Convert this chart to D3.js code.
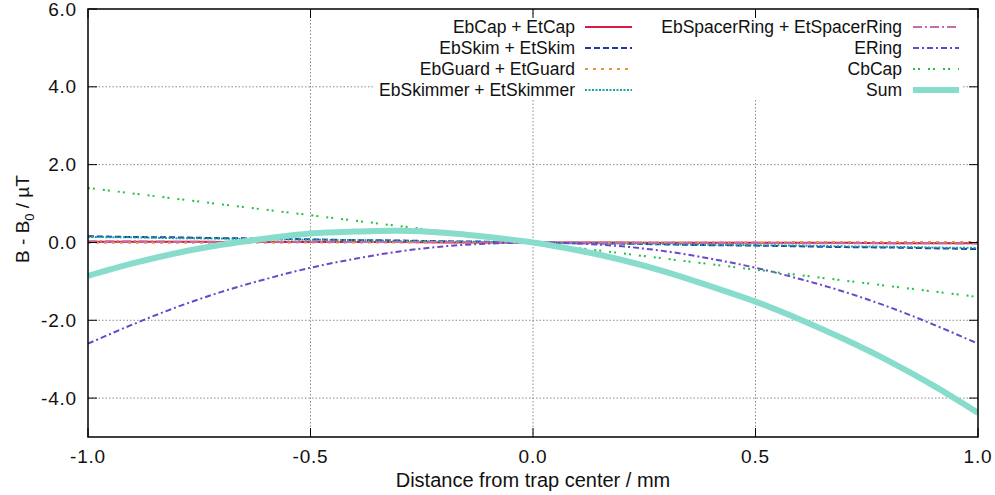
<!DOCTYPE html>
<html>
<head>
<meta charset="utf-8">
<script src="https://cdn.jsdelivr.net/npm/d3@7"></script>
<style>
  html, body { margin: 0; padding: 0; background: #fff; }
  svg { display: block; font-family: "Liberation Sans", Arial, Helvetica, sans-serif; }
</style>
</head>
<body>
<svg id="chart" width="995" height="495"></svg>
<script>
// Sample positions along the trap axis (mm)
const positions = [-1.0, -0.9, -0.8, -0.7, -0.6, -0.5, -0.4, -0.3, -0.2, -0.1, 0.0,
                   0.1, 0.2, 0.3, 0.4, 0.5, 0.6, 0.7, 0.8, 0.9, 1.0];

// Field deviation contributions (µT) per electrode pair
const ebCap = [0.02, 0.02, 0.02, 0.01, 0.01, 0.01, 0.01, 0.01, 0.00, 0.00, 0.00,
               0.00, 0.00, -0.01, -0.01, -0.01, -0.01, -0.01, -0.02, -0.02, -0.02];
const ebSkim = [0.16, 0.14, 0.13, 0.11, 0.10, 0.08, 0.06, 0.05, 0.03, 0.02, 0.00,
                -0.02, -0.03, -0.05, -0.07, -0.08, -0.10, -0.12, -0.13, -0.15, -0.17];
const ebGuard = [-0.01, -0.01, -0.01, -0.01, -0.01, 0.00, 0.00, 0.00, 0.00, 0.00, 0.00,
                 0.00, 0.00, 0.00, 0.00, 0.00, 0.01, 0.01, 0.01, 0.01, 0.01];
const ebSkimmer = [0.14, 0.13, 0.11, 0.10, 0.08, 0.07, 0.06, 0.04, 0.03, 0.01, 0.00,
                   -0.01, -0.03, -0.04, -0.06, -0.07, -0.08, -0.10, -0.11, -0.13, -0.14];
const ebSpacerRing = [0.03, 0.03, 0.02, 0.02, 0.02, 0.02, 0.01, 0.01, 0.01, 0.00, 0.00,
                      0.00, -0.01, -0.01, -0.01, -0.01, -0.02, -0.02, -0.02, -0.02, -0.03];
const eRing = [-2.60, -2.11, -1.66, -1.27, -0.94, -0.65, -0.42, -0.23, -0.10, -0.03, 0.00,
               -0.03, -0.10, -0.23, -0.42, -0.65, -0.94, -1.27, -1.66, -2.11, -2.60];
const cbCap = [1.40, 1.26, 1.12, 0.98, 0.84, 0.70, 0.56, 0.42, 0.28, 0.14, 0.00,
               -0.14, -0.28, -0.42, -0.56, -0.70, -0.84, -0.98, -1.12, -1.26, -1.40];
const sumField = [-0.86, -0.54, -0.27, -0.06, 0.10, 0.23, 0.28, 0.30, 0.25, 0.14, 0.00,
                  -0.20, -0.45, -0.76, -1.13, -1.52, -1.98, -2.49, -3.05, -3.68, -4.38];

const seriesNames = ["EbCap + EtCap", "EbSkim + EtSkim", "EbGuard + EtGuard", "EbSkimmer + EtSkimmer",
                     "EbSpacerRing + EtSpacerRing", "ERing", "CbCap", "Sum"];
const seriesValues = [ebCap, ebSkim, ebGuard, ebSkimmer, ebSpacerRing, eRing, cbCap, sumField];

const xTicks = [-1.0, -0.5, 0.0, 0.5, 1.0];
const yTicks = [6.0, 4.0, 2.0, 0.0, -2.0, -4.0];

// Line styles for each series, in plotting order
const styles = [
  { color: "#d81b45", width: 2,   dash: null },
  { color: "#1f3aa3", width: 2,   dash: "6,3" },
  { color: "#e09a3a", width: 2,   dash: "3,5" },
  { color: "#1aa5a0", width: 2,   dash: "2,1.5" },
  { color: "#c86aa8", width: 2,   dash: "9,3,2,3" },
  { color: "#6a48c8", width: 2,   dash: "6,3,2,3" },
  { color: "#22c040", width: 2,   dash: "2,3,2,8" },
  { color: "#88dccb", width: 6,   dash: null }
];

const W = 995, H = 495;
const margin = { left: 88, right: 17, top: 9, bottom: 58 };
const svg = d3.select("#chart");

const x = d3.scaleLinear().domain([-1, 1]).range([margin.left, W - margin.right]);
const y = d3.scaleLinear().domain([-5, 6]).range([H - margin.bottom, margin.top]);

const plotL = x(-1), plotR = x(1), plotT = y(6), plotB = y(-5);

// Dotted grid
const grid = svg.append("g").attr("stroke", "#8a8a8a").attr("stroke-width", 1)
  .attr("stroke-dasharray", "1.5,2");
grid.selectAll("line.gx").data(xTicks.filter(t => t > -1 && t < 1)).join("line")
  .attr("x1", d => x(d)).attr("x2", d => x(d)).attr("y1", plotT).attr("y2", plotB);
grid.selectAll("line.gy").data(yTicks.filter(t => t < 6)).join("line")
  .attr("y1", d => y(d)).attr("y2", d => y(d)).attr("x1", plotL).attr("x2", plotR);

// Curves
const line = d3.line()
  .x((d, i) => x(positions[i]))
  .y(d => y(d))
  .curve(d3.curveCatmullRom.alpha(0.5));

svg.append("clipPath").attr("id", "plotclip").append("rect")
  .attr("x", plotL).attr("y", plotT).attr("width", plotR - plotL).attr("height", plotB - plotT);

const curves = svg.append("g").attr("clip-path", "url(#plotclip)");
seriesValues.forEach((vals, k) => {
  const s = styles[k];
  curves.append("path")
    .attr("d", line(vals))
    .attr("fill", "none")
    .attr("stroke", s.color)
    .attr("stroke-width", s.width)
    .attr("stroke-dasharray", s.dash)
    .attr("stroke-linejoin", "round");
});

// Legend with opaque background
svg.append("rect").attr("x", 373).attr("y", 14).attr("width", 590).attr("height", 86).attr("fill", "#fff");

const legend = svg.append("g").attr("font-size", 17.5).attr("fill", "#111");
const legendCols = [
  { textX: 575, x1: 585, x2: 632 },
  { textX: 902, x1: 913, x2: 959 }
];
seriesNames.forEach((name, k) => {
  const col = legendCols[k < 4 ? 0 : 1];
  const row = k % 4;
  const ly = 27 + row * 21;
  const s = styles[k];
  legend.append("text").attr("x", col.textX).attr("y", ly).attr("dy", "0.35em")
    .attr("text-anchor", "end").text(name);
  legend.append("line").attr("x1", col.x1).attr("x2", col.x2).attr("y1", ly).attr("y2", ly)
    .attr("stroke", s.color).attr("stroke-width", s.width)
    .attr("stroke-dasharray", s.dash);
});

// Axes: ticks pointing inward on all four sides
const tickLen = 9;
const axisG = svg.append("g").attr("stroke", "#000").attr("stroke-width", 1);
xTicks.forEach(t => {
  axisG.append("line").attr("x1", x(t)).attr("x2", x(t)).attr("y1", plotB).attr("y2", plotB - tickLen);
  axisG.append("line").attr("x1", x(t)).attr("x2", x(t)).attr("y1", plotT).attr("y2", plotT + tickLen);
});
yTicks.forEach(t => {
  axisG.append("line").attr("x1", plotL).attr("x2", plotL + tickLen).attr("y1", y(t)).attr("y2", y(t));
  axisG.append("line").attr("x1", plotR).attr("x2", plotR - tickLen).attr("y1", y(t)).attr("y2", y(t));
});
svg.append("rect").attr("x", plotL).attr("y", plotT).attr("width", plotR - plotL).attr("height", plotB - plotT)
  .attr("fill", "none").attr("stroke", "#000").attr("stroke-width", 1.5);

// Tick labels use a plain hyphen for negatives
const fmt = v => d3.format(".1f")(v).replace("\u2212", "-");
const labels = svg.append("g").attr("fill", "#111");
xTicks.forEach(t => {
  labels.append("text").attr("x", x(t)).attr("y", 463)
    .attr("font-size", 19).attr("letter-spacing", 0.8)
    .attr("text-anchor", "middle").text(fmt(t));
});
yTicks.forEach(t => {
  labels.append("text").attr("x", plotL - 11).attr("y", y(t)).attr("dy", "0.35em")
    .attr("font-size", 19).attr("letter-spacing", 0.8)
    .attr("text-anchor", "end").text(fmt(t));
});

// Axis titles
labels.append("text").attr("x", (plotL + plotR) / 2).attr("y", 487)
  .attr("font-size", 20)
  .attr("text-anchor", "middle").text("Distance from trap center / mm");

const yTitle = labels.append("text")
  .attr("font-size", 19)
  .attr("transform", `translate(29, 219) rotate(-90)`)
  .attr("text-anchor", "middle");
yTitle.append("tspan").text("B - B");
yTitle.append("tspan").attr("font-size", 13).attr("dy", 5).text("0");
yTitle.append("tspan").attr("dy", -5).text(" / µT");
</script>
</body>
</html>
